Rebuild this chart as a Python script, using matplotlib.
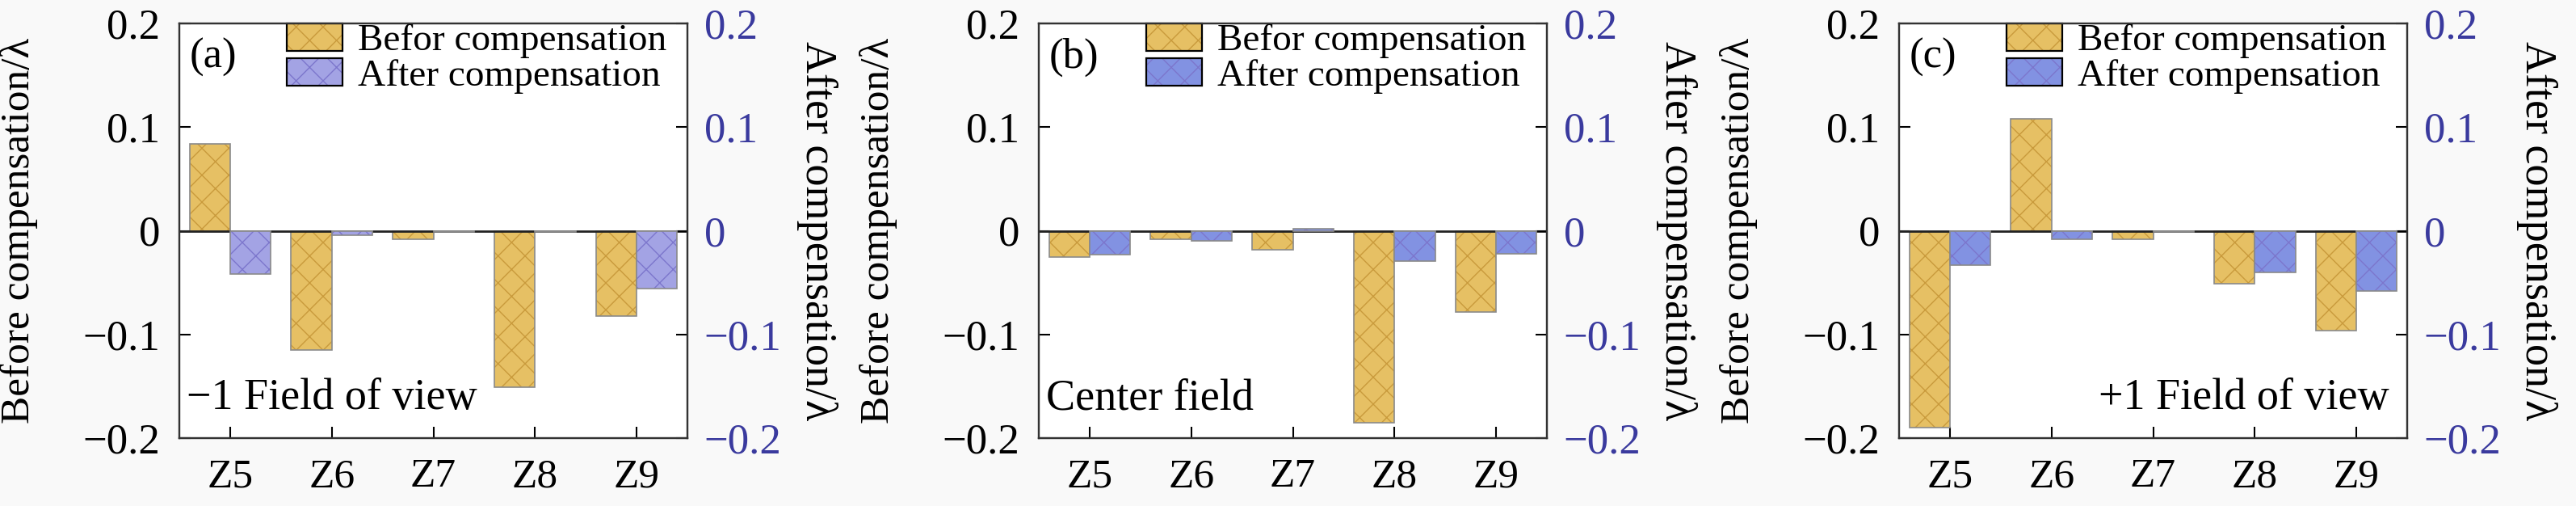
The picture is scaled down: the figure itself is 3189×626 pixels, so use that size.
import matplotlib
matplotlib.use("Agg")
import matplotlib.pyplot as plt
import numpy as np
from matplotlib.colors import to_rgba

SERIF = ['Liberation Serif', 'DejaVu Serif']
plt.rcParams['font.family'] = SERIF
plt.rcParams['axes.unicode_minus'] = True
plt.rcParams['hatch.linewidth'] = 1.0

categories = ["Z5", "Z6", "Z7", "Z8", "Z9"]
panel_tags = ["(a)", "(b)", "(c)"]
field_names = ["\u22121 Field of view", "Center field", "+1 Field of view"]

before_a = [0.084, -0.115, -0.008, -0.151, -0.082]
after_a = [-0.042, -0.004, -0.001, -0.001, -0.056]
before_b = [-0.025, -0.008, -0.018, -0.185, -0.078]
after_b = [-0.023, -0.010, 0.002, -0.029, -0.022]
before_c = [-0.190, 0.108, -0.008, -0.051, -0.096]
after_c = [-0.033, -0.008, -0.001, -0.040, -0.058]

before_all = [before_a, before_b, before_c]
after_all = [after_a, after_b, after_c]

yticks = [-0.2, -0.1, 0, 0.1, 0.2]
ytick_labels = ["\u22120.2", "\u22120.1", "0", "0.1", "0.2"]

before_face = "#E6C064"
before_hatch = "#C99A3C"
after_faces = ["#A3A3E4", "#8292E2", "#8292E2"]
after_hatch = "#7C76CC"
edge_gray = "#8A8A8A"
right_color = "#3A3A9E"

fig = plt.figure(figsize=(31.89, 6.26), dpi=100)
lefts = [222 / 3189, 1286 / 3189, 2351 / 3189]
width = 629 / 3189
bottom = 1 - 542 / 626
height = (542 - 29) / 626


def set_hatch_color(bars, color):
    for p in bars:
        try:
            p.set_hatchcolor(color)
        except AttributeError:
            p._hatch_color = to_rgba(color)


x = np.arange(len(categories))
for i in range(3):
    ax = fig.add_axes([lefts[i], bottom, width, height])
    ax2 = ax.twinx()
    b1 = ax.bar(x, before_all[i], width=-0.4, align='edge', color=before_face,
                edgecolor=edge_gray, linewidth=1.2, hatch='x', zorder=2,
                label="Befor compensation")
    set_hatch_color(b1, before_hatch)
    b2 = ax2.bar(x, after_all[i], width=0.4, align='edge', color=after_faces[i],
                 edgecolor=edge_gray, linewidth=1.2, hatch='x', zorder=2,
                 label="After compensation")
    set_hatch_color(b2, after_hatch)
    ax.axhline(0, color='#222222', lw=2.0, zorder=3)

    for a in (ax, ax2):
        a.set_ylim(-0.2, 0.2)
        a.set_yticks(yticks)
        for s in a.spines.values():
            s.set_linewidth(1.6)
            s.set_color('#333333')
    ax.set_xlim(-0.5, 4.5)
    ax.set_xticks(x)
    ax.set_xticklabels(categories, fontsize=37, family=SERIF)
    ax.set_yticklabels(ytick_labels, fontsize=38, family=SERIF)
    ax2.set_yticklabels(ytick_labels, fontsize=38, color=right_color, family=SERIF)
    ax.tick_params(axis='y', direction='in', length=10, width=1.5, pad=17)
    ax2.tick_params(axis='y', direction='in', length=10, width=1.5, pad=15,
                    labelcolor=right_color)
    ax.tick_params(axis='x', direction='in', length=10, width=1.5, pad=18)

    ax.set_ylabel("Before compensation/\u03bb", fontsize=37, family=SERIF)
    ax.yaxis.set_label_coords(-0.278, 0.5)
    ax2.set_ylabel("After compensation/\u03bb", fontsize=39, rotation=270,
                   va='center', family=SERIF)
    ax2.yaxis.set_label_coords(1.255, 0.5)

    ax.text(0.02, 0.965, panel_tags[i], transform=ax.transAxes,
            fontsize=38, va='top', ha='left', family=SERIF)
    if i == 2:
        ax.text(0.965, 0.07, field_names[i], transform=ax.transAxes,
                fontsize=39, va='baseline', ha='right', family=SERIF)
    else:
        ax.text(0.015, 0.07, field_names[i], transform=ax.transAxes,
                fontsize=39, va='baseline', ha='left', family=SERIF)

    leg = ax.legend([b1, b2], ["Befor compensation", "After compensation"],
                    loc='upper left', bbox_to_anchor=(0.212, 1.0),
                    frameon=False, prop={'family': SERIF, 'size': 34},
                    handlelength=1.45, handleheight=0.72, handletextpad=0.4,
                    labelspacing=0.0, borderpad=0, borderaxespad=0)
    for h in leg.legend_handles:
        h.set_edgecolor('black')
        h.set_linewidth(1.6)
    set_hatch_color(leg.legend_handles[0:1], before_hatch)
    set_hatch_color(leg.legend_handles[1:2], after_hatch)

fig.savefig("out.png", dpi=100, facecolor='#F9F9F9')
